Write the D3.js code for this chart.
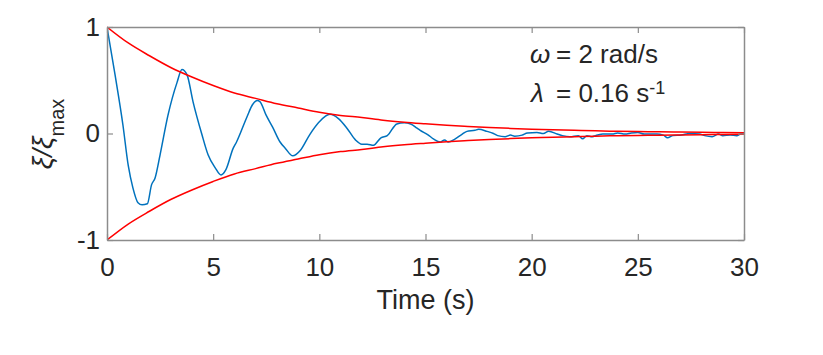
<!DOCTYPE html>
<html><head><meta charset="utf-8">
<script src="https://cdn.jsdelivr.net/npm/d3@7"></script>
<style>
body{margin:0;background:#fff;}
text{font-family:"Liberation Sans",Arial,Helvetica,sans-serif;fill:#262626;}
</style></head>
<body><svg id="c" width="823" height="355"></svg>
<script>
// Measured signal (time in s, normalised displacement)
const sigT = [0,0.38,0.75,1.0,1.22,1.46,1.65,1.9,2.1,2.26,2.5,2.87,3.3,3.53,3.77,4.05,4.47,4.76,5.09,5.37,5.6,5.94,6.1,6.6,6.85,7.07,7.2,7.5,7.8,8.15,8.4,8.75,9.1,9.55,10.0,10.5,10.9,11.3,11.7,12.0,12.25,12.55,12.9,13.2,13.65,14.0,14.3,14.6,14.75,15.1,15.37,15.7,15.9,16.07,16.4,16.7,16.95,17.33,17.5,17.9,18.2,18.4,18.75,19.0,19.2,19.55,19.8,20.25,20.55,20.8,21.2,21.45,21.8,22.2,22.4,22.6,22.85,23.1,23.35,23.8,24.05,24.4,24.7,25.0,25.3,25.9,26.2,26.4,26.65,27.05,27.45,27.9,28.15,28.5,28.8,29.0,29.35,29.65,29.9,30];
const sigY = [1.0,0.55,0.08,-0.30,-0.51,-0.65,-0.67,-0.66,-0.48,-0.42,-0.20,0.17,0.48,0.60,0.55,0.30,-0.01,-0.20,-0.32,-0.39,-0.34,-0.14,-0.08,0.16,0.27,0.31,0.30,0.17,0.06,-0.08,-0.14,-0.21,-0.16,-0.01,0.11,0.18,0.14,0.05,-0.06,-0.10,-0.10,-0.11,-0.04,-0.02,0.09,0.10,0.09,0.05,0.03,-0.01,-0.05,-0.08,-0.06,-0.08,-0.05,-0.01,0.02,0.03,0.04,0.02,0.0,-0.02,-0.03,-0.015,-0.025,-0.015,0.005,0.01,0.0,0.02,-0.005,-0.02,-0.03,-0.02,-0.05,-0.02,-0.03,-0.015,-0.005,-0.005,0.005,-0.005,0.005,0.01,-0.005,-0.005,-0.015,-0.04,-0.02,-0.015,0.0,-0.005,-0.02,-0.03,-0.005,-0.02,-0.015,-0.02,0.0,0.0];
// Envelope (upper; lower is its mirror)
const envT = [0,1,2,3,4,5,6,7,8,9,10,11,12,13,14,15,16,17,18,19,20,21,22,23,24,25,26,27,28,29,30];
const envY = [1,0.85,0.73,0.62,0.53,0.45,0.38,0.33,0.28,0.24,0.20,0.17,0.15,0.125,0.106,0.091,0.077,0.066,0.056,0.048,0.041,0.035,0.030,0.025,0.021,0.018,0.016,0.013,0.011,0.0097,0.0082];
const xTicks = [0,5,10,15,20,25,30];
const yTicks = [-1,0,1];

const L=107,R=744,T=27,B=240;
const svg=d3.select("#c");
const x=d3.scaleLinear().domain([0,30]).range([L,R]);
const y=d3.scaleLinear().domain([-1,1]).range([B,T]);

const line=d3.line().x(d=>x(d[0])).y(d=>y(d[1])).curve(d3.curveMonotoneX);
const sig=sigT.map((t,i)=>[t,sigY[i]]);
const up=envT.map((t,i)=>[t,envY[i]]);
const lo=envT.map((t,i)=>[t,-envY[i]]);

svg.append("defs").append("clipPath").attr("id","cp").append("rect").attr("x",L).attr("y",T-1).attr("width",R-L).attr("height",B-T+2);
const g=svg.append("g").attr("clip-path","url(#cp)");
g.append("path").attr("d",line(sig)).attr("fill","none").attr("stroke","#0072BD").attr("stroke-width",1.5);
g.append("path").attr("d",line(up)).attr("fill","none").attr("stroke","#FF0000").attr("stroke-width",1.5);
g.append("path").attr("d",line(lo)).attr("fill","none").attr("stroke","#FF0000").attr("stroke-width",1.5);

const ac="#8c8c8c";
const tk=6;
const fmt=d=>String(d);
const axB=d3.axisBottom(x).tickValues(xTicks).tickFormat(fmt).tickSizeInner(-tk).tickSizeOuter(0).tickPadding(18);
const axT=d3.axisTop(x).tickValues(xTicks).tickSizeInner(-tk).tickSizeOuter(0).tickFormat("");
const axL=d3.axisLeft(y).tickValues(yTicks).tickFormat(fmt).tickSizeInner(-tk).tickSizeOuter(0).tickPadding(7);
const axR=d3.axisRight(y).tickValues(yTicks).tickSizeInner(-tk).tickSizeOuter(0).tickFormat("");
function style(s){s.select(".domain").attr("stroke",ac).attr("stroke-width",1.5);s.selectAll(".tick line").attr("stroke",ac).attr("stroke-width",1.2);s.selectAll("text").style("font-size","26px").attr("fill","#262626");}
svg.append("g").attr("transform",`translate(0,${B})`).call(axB).call(style);
svg.append("g").attr("transform",`translate(0,${T})`).call(axT).call(style);
svg.append("g").attr("transform",`translate(${L},0)`).call(axL).call(style);
svg.append("g").attr("transform",`translate(${R},0)`).call(axR).call(style);

svg.append("text").attr("x",(L+R)/2).attr("y",309).attr("text-anchor","middle").style("font-size","27px").text("Time (s)");
const yl=svg.append("text").attr("transform","translate(52,134) rotate(-90)").attr("text-anchor","middle").style("font-size","28px");
yl.append("tspan").style("font-style","italic").text("ξ/ξ");
yl.append("tspan").attr("dy",12).style("font-size","20px").text("max");

const fs="26px";
svg.append("text").attr("x",530).attr("y",63).style("font-size",fs).style("font-style","italic").text("ω");
svg.append("text").attr("x",556).attr("y",63).style("font-size",fs).text("= 2 rad/s");
svg.append("text").attr("x",531).attr("y",102).style("font-size",fs).style("font-style","italic").text("λ");
const a2=svg.append("text").attr("x",556).attr("y",102).style("font-size",fs);
a2.append("tspan").text("= 0.16 s");
a2.append("tspan").attr("dy",-8).style("font-size","18px").text("-1");
</script></body></html>
